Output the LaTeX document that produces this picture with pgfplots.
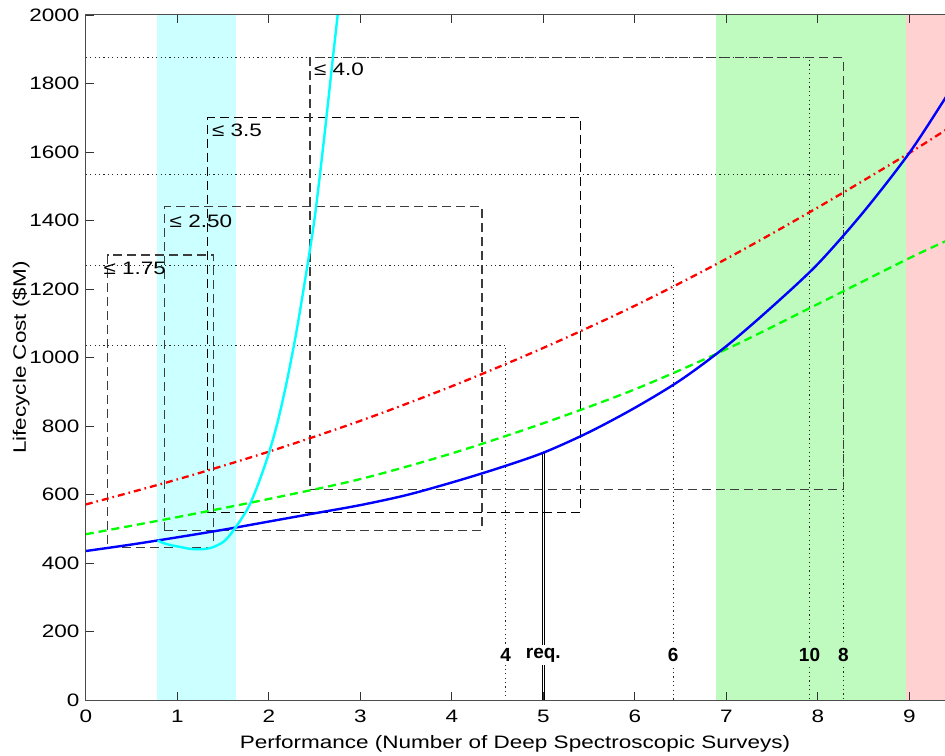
\documentclass[border=0pt]{standalone}
\usepackage{pgfplots}
\pgfplotsset{compat=1.18}
\usepackage{fontspec}
\setmainfont{Liberation Sans}[FakeStretch=1.25]
\newfontfamily\plainfont{Liberation Sans}
\definecolor{cyanband}{RGB}{204,255,255}
\definecolor{greenband}{RGB}{191,250,191}
\definecolor{redband}{RGB}{255,209,209}
\definecolor{boxgray}{RGB}{60,60,60}
\definecolor{mcyan}{RGB}{0,255,255}
\definecolor{mgreen}{RGB}{0,255,0}
\definecolor{mred}{RGB}{255,0,0}
\definecolor{mblue}{RGB}{0,0,255}
\begin{document}
\fontsize{9}{10.5}\selectfont
\begin{tikzpicture}
\begin{axis}[
  at={(0,0)}, anchor=south west,
  scale only axis, width=434.6pt, height=342.5pt,
  xmin=0, xmax=9.5, ymin=0, ymax=2000,
  xtick={0,1,...,9}, ytick={0,200,...,2000},
  tick align=inside, major tick length=4pt,
  tick style={black!80, line width=0.4pt},
  axis line style={line width=0.5pt, black!70},
  axis on top,
  /pgf/number format/assume math mode=true,
  /pgf/number format/1000 sep={},
  tick label style={font=\fontsize{9}{10.5}\selectfont},
  xticklabel style={yshift=-2pt},
  xlabel={Performance (Number of Deep Spectroscopic Surveys)},
  ylabel={Lifecycle Cost (\$M)},
  xlabel style={at={(axis description cs:0.4938,-0.0701)}, anchor=base},
  ylabel style={at={(axis description cs:-0.0746,0.5)}, anchor=center},
  label style={font=\fontsize{9}{10.5}\selectfont},
]
% bands
\addplot[fill=cyanband, draw=none] coordinates {(0.78,0) (1.64,0) (1.64,2000) (0.78,2000)} -- cycle;
\addplot[fill=greenband, draw=none] coordinates {(6.89,0) (8.96,0) (8.96,2000) (6.89,2000)} -- cycle;
\addplot[fill=redband, draw=none] coordinates {(8.96,0) (9.6,0) (9.6,2000) (8.96,2000)} -- cycle;
% dotted guides
\addplot[black!85, line width=0.45pt, dash pattern=on 0.6pt off 1.6pt] coordinates {(0,1875) (7.91,1875) (7.91,0)};
\addplot[black!85, line width=0.45pt, dash pattern=on 0.6pt off 1.6pt] coordinates {(0,1533) (8.28,1533) (8.28,0)};
\addplot[black!85, line width=0.45pt, dash pattern=on 0.6pt off 1.6pt] coordinates {(0,1270) (6.42,1270) (6.42,0)};
\addplot[black!85, line width=0.45pt, dash pattern=on 0.6pt off 1.6pt] coordinates {(0,1036) (4.59,1036) (4.59,0)};
% boxes
\addplot[boxgray, line width=0.6pt, dash pattern=on 4.5pt off 2.5pt] coordinates {(0.24,446) (1.40,446) (1.40,1299) (0.24,1299) (0.24,446)};
\addplot[boxgray, line width=0.6pt, dash pattern=on 4.5pt off 2.5pt] coordinates {(0.86,494) (4.33,494) (4.33,1440) (0.86,1440) (0.86,494)};
\addplot[black, line width=0.6pt, dash pattern=on 4.5pt off 2.5pt] coordinates {(1.33,548) (5.41,548) (5.41,1700) (1.33,1700) (1.33,548)};
\addplot[boxgray, line width=0.6pt, dash pattern=on 4.5pt off 2.5pt] coordinates {(2.45,615) (8.28,615) (8.28,1875) (2.45,1875) (2.45,615)};
% requirement line (double)
\addplot[black, line width=0.5pt] coordinates {(4.988,0) (4.988,721)};
\addplot[black, line width=0.5pt] coordinates {(5.012,0) (5.012,721)};
% curves
\addplot[mred, line width=1.15pt, smooth, dash pattern=on 3.5pt off 2pt on 0.8pt off 2pt] coordinates {
(0,571) (1,644) (2,725) (3,815) (4,916) (5,1028) (6,1151) (7,1288) (8,1438) (9,1597) (9.5,1682)};
\addplot[mgreen, line width=1.15pt, smooth, dash pattern=on 4pt off 2.5pt] coordinates {
(0,484) (1,534) (2,587) (3,645) (4,720) (5,808) (6,907) (7,1024) (8,1156) (9,1290) (9.5,1352)};
\addplot[mblue, line width=1.2pt, smooth] coordinates {
(0,435) (0.5,454) (1,475) (1.5,497) (2,521) (2.5,545) (3,569) (3.5,598) (4,635) (4.5,676) (5,722) (5.5,782) (6,853) (6.5,934) (7,1033) (7.5,1148) (8,1273) (8.5,1425) (9,1597) (9.4,1760) (9.5,1803)};
\addplot[mcyan, line width=1.2pt, smooth] coordinates {
(0.785,466) (0.85,458) (0.95,451) (1.03,447) (1.12,442) (1.21,440) (1.30,441) (1.39,446) (1.50,461) (1.57,480) (1.64,505) (1.72,537) (1.80,575) (1.90,642) (2.00,720) (2.10,815) (2.20,934) (2.30,1072) (2.40,1232) (2.50,1405) (2.60,1629) (2.70,1873) (2.79,2090)};
% box labels
\node[anchor=west, inner sep=0pt] at (axis cs:2.49,1840) {≤ 4.0};
\node[anchor=west, inner sep=0pt] at (axis cs:1.376,1664) {≤ 3.5};
\node[anchor=west, inner sep=0pt] at (axis cs:0.913,1397) {≤ 2.50};
\node[anchor=west, inner sep=0pt] at (axis cs:0.19,1261) {≤ 1.75};
% performance labels
\node[fill=white, inner sep=1.5pt, font=\fontsize{9.5}{11}\plainfont\bfseries] at (axis cs:4.59,131) {4};
\node[fill=white, inner sep=1.5pt, font=\fontsize{9.5}{11}\plainfont\bfseries] at (axis cs:5.0,131) {req.};
\node[fill=white, inner sep=1.5pt, font=\fontsize{9.5}{11}\plainfont\bfseries] at (axis cs:6.42,131) {6};
\node[fill=greenband, inner sep=1.5pt, font=\fontsize{9.5}{11}\plainfont\bfseries] at (axis cs:7.91,131) {10};
\node[fill=greenband, inner sep=1.5pt, font=\fontsize{9.5}{11}\plainfont\bfseries] at (axis cs:8.28,131) {8};
\end{axis}
\pgfresetboundingbox
\path[use as bounding box] (-42.9pt,-27.5pt) rectangle (429.6pt,350pt);
\end{tikzpicture}
\end{document}
